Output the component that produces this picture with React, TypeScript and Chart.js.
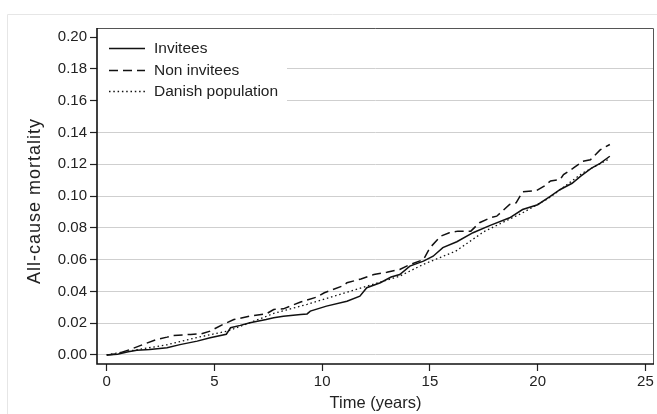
import React, { useEffect, useRef } from "react";
import { Chart, registerables } from "chart.js";

Chart.register(...registerables);

// ---- Data ----
const seriesLabels = ["Invitees", "Non invitees", "Danish population"];
const xTitle = "Time (years)";
const yTitle = "All-cause mortality";

const inviteesT = [0, 0.5, 1.0, 1.4, 2.0, 2.8, 3.4, 4.2, 4.8, 5.55, 5.75, 6.2, 6.65, 7.4, 7.75, 8.2, 9.0, 9.3, 9.45, 10.2, 11.15, 11.75, 12.07, 12.7, 13.2, 13.6, 14.07, 14.7, 15.15, 15.6, 16.25, 17.0, 17.8, 18.7, 19.3, 20.0, 20.55, 21.05, 21.6, 22.0, 22.5, 22.9, 23.35];
const inviteesY = [0, 0.0005, 0.002, 0.003, 0.0035, 0.0045, 0.0065, 0.0087, 0.0108, 0.013, 0.0171, 0.0186, 0.0203, 0.0223, 0.0234, 0.0244, 0.0255, 0.0258, 0.0276, 0.0307, 0.0338, 0.037, 0.0423, 0.0454, 0.049, 0.0506, 0.0559, 0.059, 0.0621, 0.0675, 0.0712, 0.0769, 0.0815, 0.0863, 0.0915, 0.0945, 0.0995, 0.1041, 0.108, 0.1125, 0.1175, 0.1205, 0.125];

const nonInviteesT = [0, 0.5, 1.1, 1.7, 2.3, 2.8, 3.1, 3.9, 4.4, 4.8, 5.4, 5.9, 6.65, 7.4, 7.75, 8.2, 9.0, 9.75, 10.1, 11.0, 11.15, 11.8, 12.4, 13.0, 13.6, 14.1, 14.7, 15.0, 15.5, 15.9, 16.3, 16.9, 17.3, 17.8, 18.1, 18.7, 19.0, 19.3, 19.95, 20.3, 20.6, 21.05, 21.2, 21.65, 22.1, 22.45, 22.9, 23.35];
const nonInviteesY = [0, 0.0008, 0.0035, 0.0066, 0.0097, 0.0112, 0.0123, 0.0129, 0.0133, 0.015, 0.0192, 0.0223, 0.0244, 0.0258, 0.0286, 0.029, 0.0333, 0.0364, 0.0391, 0.0437, 0.0454, 0.0478, 0.0506, 0.052, 0.0538, 0.057, 0.06, 0.0674, 0.0747, 0.0769, 0.0779, 0.0779, 0.0832, 0.0863, 0.0873, 0.0947, 0.0957, 0.1026, 0.1035, 0.1062, 0.1095, 0.1104, 0.1135, 0.1175, 0.1219, 0.1228, 0.129, 0.1324];

const danishT = [0, 1.2, 2.8, 4.3, 5.6, 6.65, 7.75, 9.3, 10.8, 12.07, 13.6, 14.7, 16.2, 17.5, 18.7, 19.3, 20.5, 22.1, 23.35];
const danishY = [0, 0.0028, 0.0064, 0.0113, 0.015, 0.0203, 0.0261, 0.0318, 0.038, 0.0433, 0.0496, 0.057, 0.0653, 0.0775, 0.0855, 0.0894, 0.0985, 0.1146, 0.1235];

const xTickValues = [0, 5, 10, 15, 20, 25];
const yTickValues = [0, 0.02, 0.04, 0.06, 0.08, 0.1, 0.12, 0.14, 0.16, 0.18, 0.2];

const FONT = '"Liberation Sans", Arial, Helvetica, sans-serif';

const toPoints = (t: number[], y: number[]) => t.map((v, i) => ({ x: v, y: y[i] }));

const customPlugin = {
  id: "customFrameLegend",
  beforeDraw(chart: any) {
    const ctx = chart.ctx;
    ctx.save();
    ctx.strokeStyle = "#e6e6e6";
    ctx.lineWidth = 1;
    ctx.beginPath();
    ctx.moveTo(7.5, 414);
    ctx.lineTo(7.5, 14.5);
    ctx.lineTo(657, 14.5);
    ctx.stroke();
    ctx.restore();
  },
  afterDraw(chart: any) {
    const { ctx, chartArea: a } = chart;
    ctx.save();
    // legend background
    ctx.fillStyle = "#ffffff";
    ctx.fillRect(a.left + 1, a.top + 1, 189, 76);
    ctx.font = `15.5px ${FONT}`;
    ctx.textBaseline = "middle";
    ctx.textAlign = "left";
    chart.data.datasets.forEach((ds: any, i: number) => {
      const y = Math.round(a.top + 20 + i * 21.5) + 0.5;
      ctx.strokeStyle = ds.borderColor;
      ctx.lineWidth = ds.borderWidth;
      ctx.setLineDash(ds.borderDash || []);
      ctx.beginPath();
      ctx.moveTo(a.left + 12, y);
      ctx.lineTo(a.left + 48, y);
      ctx.stroke();
      ctx.setLineDash([]);
      ctx.fillStyle = "#222";
      ctx.fillText(seriesLabels[i], a.left + 57, y);
    });
    // frame
    ctx.strokeStyle = "#555";
    ctx.lineWidth = 1;
    ctx.beginPath();
    ctx.moveTo(a.left, a.top + 0.5);
    ctx.lineTo(a.right - 0.5, a.top + 0.5);
    ctx.lineTo(a.right - 0.5, a.bottom);
    ctx.stroke();
    ctx.strokeStyle = "#111";
    ctx.lineWidth = 1.6;
    ctx.beginPath();
    ctx.moveTo(a.left, a.top);
    ctx.lineTo(a.left, a.bottom);
    ctx.lineTo(a.right, a.bottom);
    ctx.stroke();
    // y axis title
    ctx.translate(35, 201);
    ctx.rotate(-Math.PI / 2);
    ctx.font = `18px ${FONT}`;
    (ctx as any).letterSpacing = "1px";
    ctx.fillStyle = "#222";
    ctx.textAlign = "center";
    ctx.textBaseline = "middle";
    ctx.fillText(yTitle, 0, 0);
    ctx.restore();
  },
};

export default function App() {
  const ref = useRef<HTMLCanvasElement | null>(null);

  useEffect(() => {
    if (!ref.current) return;
    const chart = new Chart(ref.current, {
      type: "line",
      data: {
        datasets: [
          {
            label: seriesLabels[0],
            data: toPoints(inviteesT, inviteesY),
            borderColor: "#111",
            borderWidth: 1.5,
            pointRadius: 0,
            fill: false,
            tension: 0,
          },
          {
            label: seriesLabels[1],
            data: toPoints(nonInviteesT, nonInviteesY),
            borderColor: "#111",
            borderWidth: 1.5,
            borderDash: [9, 5],
            pointRadius: 0,
            fill: false,
            tension: 0,
          },
          {
            label: seriesLabels[2],
            data: toPoints(danishT, danishY),
            borderColor: "#111",
            borderWidth: 1.3,
            borderDash: [1.5, 2.8],
            pointRadius: 0,
            fill: false,
            tension: 0,
          },
        ],
      },
      options: {
        animation: false,
        responsive: false,
        maintainAspectRatio: false,
        layout: { padding: { top: 28, right: 3, left: 0, bottom: 0 } },
        plugins: {
          legend: { display: false },
          tooltip: { enabled: false },
        },
        scales: {
          x: {
            type: "linear",
            min: -0.45,
            max: 25.4,
            afterBuildTicks: (scale: any) => {
              scale.ticks = xTickValues.map((v) => ({ value: v }));
            },
            afterFit: (scale: any) => {
              scale.height = 50;
            },
            border: { display: false },
            grid: {
              drawOnChartArea: false,
              drawTicks: true,
              tickLength: 7,
              tickColor: "#222",
              tickWidth: 1.2,
            },
            ticks: {
              autoSkip: false,
              maxRotation: 0,
              padding: 2,
              color: "#222",
              font: { family: FONT, size: 15 },
              callback: (v: any) => String(v),
            },
            title: {
              display: true,
              text: xTitle,
              color: "#222",
              font: { family: FONT, size: 16.5 },
              padding: { top: 0, bottom: 1 },
            },
          },
          y: {
            type: "linear",
            min: -0.0057,
            max: 0.2057,
            afterBuildTicks: (scale: any) => {
              scale.ticks = yTickValues.map((v) => ({ value: v }));
            },
            afterFit: (scale: any) => {
              scale.width = 97;
            },
            border: { display: false },
            grid: {
              drawOnChartArea: true,
              drawTicks: true,
              tickLength: 7,
              tickColor: "#222",
              tickWidth: 1.2,
              lineWidth: 1,
              color: (c: any) =>
                c.tick && Math.abs(c.tick.value - 0.2) < 1e-9 ? "rgba(0,0,0,0)" : "#cfcfcf",
            },
            ticks: {
              autoSkip: false,
              padding: 3,
              color: "#222",
              font: { family: FONT, size: 15 },
              callback: (v: any) => Number(v).toFixed(2),
            },
            title: { display: false },
          },
        },
      },
      plugins: [customPlugin],
    });
    return () => chart.destroy();
  }, []);

  return (
    <canvas
      ref={ref}
      width={657}
      height={414}
      style={{ position: "absolute", left: 0, top: 0, width: 657, height: 414, display: "block" }}
    />
  );
}
